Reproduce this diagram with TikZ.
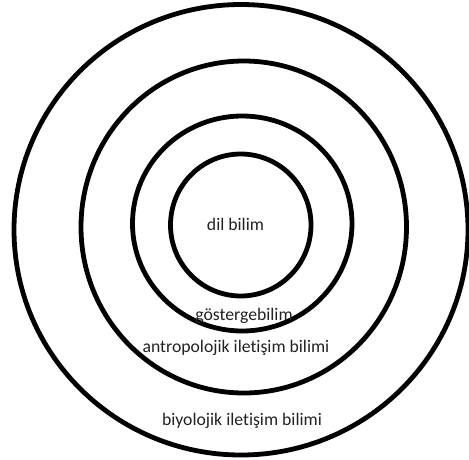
\documentclass[tikz,border=0pt]{standalone}
\usepackage{fontspec}
\setmainfont{Carlito}[Ligatures={NoCommon,NoContextual}]
\definecolor{txt}{HTML}{222222}
\begin{document}
\begin{tikzpicture}[x=1pt,y=-1pt,
  ring/.style={draw=black,line width=4.8pt},
  lbl/.style={anchor=base,inner sep=0pt,text=txt,font=\fontsize{17.7}{20}\selectfont}]
\useasboundingbox (0,0) rectangle (469,459);
\clip (0,0) rectangle (469,459);
\fill[white] (0,0) rectangle (469,459);
\draw[ring] (241,229.75) ellipse [x radius=227, y radius=225.25];
\draw[ring] (243.75,227) ellipse [x radius=162.75, y radius=166];
\draw[ring] (242.25,223.5) ellipse [x radius=109.75, y radius=107.5];
\draw[ring] (240.75,225) ellipse [x radius=70.25, y radius=71];
\node[lbl] (dil) at (235.5,230) {dil bilim};
\node[lbl] (gos) at (244,320) {göstergebilim};
\node[lbl] (ant) at (236,352) {antropolojik iletişim bilimi};
\node[lbl] (biy) at (242,425.5) {biyolojik iletişim bilimi};
\end{tikzpicture}
\end{document}
